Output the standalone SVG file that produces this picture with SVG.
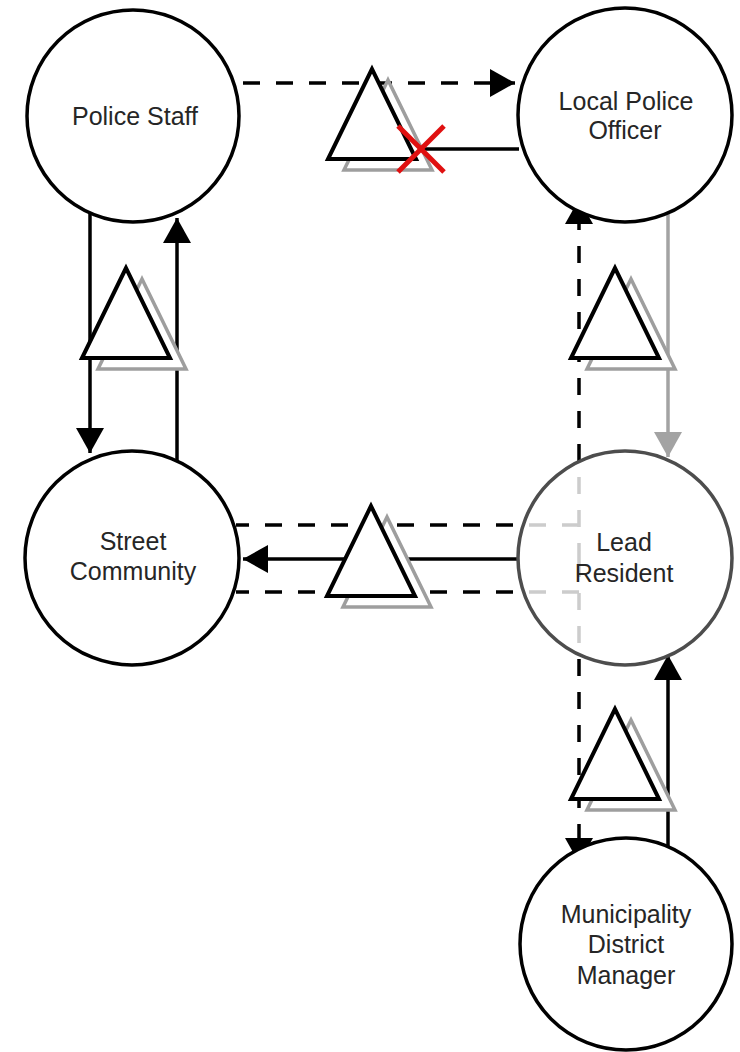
<svg xmlns="http://www.w3.org/2000/svg" xmlns:xlink="http://www.w3.org/1999/xlink" width="740" height="1052" viewBox="0 0 740 1052">
  <style>
    .node circle { fill: #ffffff; stroke: #000000; stroke-width: 3.5; }
    .node.faded circle { fill-opacity: 0.8; stroke: #4d4d4d; }
    .node text { font-family: "Liberation Sans", Arial, sans-serif; font-size: 25px; fill: #262626; text-anchor: middle; }
    .link { fill: none; stroke: #000000; stroke-width: 3.5; }
    .dash { stroke-dasharray: 17 16; }
    .grey { stroke: #a3a3a3; }
    .tri-back { fill: #ffffff; stroke: #9e9e9e; stroke-width: 3.5; }
    .tri-front { fill: #ffffff; stroke: #000000; stroke-width: 4; }
    .cross { stroke: #e01010; stroke-width: 5; stroke-linecap: butt; }
  </style>
  <defs>
    <marker id="arrow" viewBox="0 0 25 28" refX="25" refY="14" markerWidth="25" markerHeight="28" markerUnits="userSpaceOnUse" orient="auto">
      <path d="M0,0 L25,14 L0,28 Z" fill="#000000"/>
    </marker>
    <marker id="arrow-grey" viewBox="0 0 25 28" refX="25" refY="14" markerWidth="25" markerHeight="28" markerUnits="userSpaceOnUse" orient="auto">
      <path d="M0,0 L25,14 L0,28 Z" fill="#a3a3a3"/>
    </marker>
    <!-- warning triangle with offset shadow, anchored at its apex -->
    <g id="tri">
      <polygon class="tri-back" points="16,11 -28,101 60,101"/>
      <polygon class="tri-front" points="0,0 -44,90 44,90"/>
    </g>
  </defs>

  <g id="connectors">
    <line class="link dash" x1="243" y1="83" x2="515" y2="83" marker-end="url(#arrow)"/>
    <line class="link" x1="421" y1="149" x2="519" y2="149"/>
    <line class="link" x1="90" y1="212" x2="90" y2="453" marker-end="url(#arrow)"/>
    <line class="link" x1="177" y1="461" x2="177" y2="218" marker-end="url(#arrow)"/>
    <line class="link grey" x1="668" y1="212" x2="668" y2="457" marker-end="url(#arrow-grey)"/>
    <line class="link dash" x1="579" y1="560" x2="579" y2="199" marker-end="url(#arrow)"/>
    <line class="link dash" x1="579" y1="560" x2="579" y2="863" marker-end="url(#arrow)"/>
    <line class="link dash" x1="579" y1="525" x2="236" y2="525"/>
    <line class="link dash" x1="579" y1="592" x2="236" y2="592"/>
    <line class="link" x1="518" y1="559" x2="243" y2="559" marker-end="url(#arrow)"/>
    <line class="link" x1="668" y1="847" x2="668" y2="655" marker-end="url(#arrow)"/>
  </g>

  <g id="warnings">
    <use xlink:href="#tri" x="372" y="69"/>
    <use xlink:href="#tri" x="126" y="268"/>
    <use xlink:href="#tri" x="615" y="268"/>
    <use xlink:href="#tri" x="371" y="506"/>
    <use xlink:href="#tri" x="615" y="709"/>
    <g id="broken-link">
      <line class="cross" x1="398" y1="126" x2="444" y2="172"/>
      <line class="cross" x1="444" y1="126" x2="398" y2="172"/>
    </g>
  </g>

  <g id="police-staff" class="node">
    <circle cx="133" cy="116" r="106"/>
    <text x="135" y="125">Police Staff</text>
  </g>
  <g id="local-police-officer" class="node">
    <circle cx="625" cy="115" r="107"/>
    <text x="626" y="110">Local Police</text>
    <text x="625" y="139">Officer</text>
  </g>
  <g id="street-community" class="node">
    <circle cx="132" cy="558" r="107"/>
    <text x="133" y="550">Street</text>
    <text x="133" y="580">Community</text>
  </g>
  <g id="lead-resident" class="node faded">
    <circle cx="625" cy="558" r="107"/>
    <text x="624" y="551">Lead</text>
    <text x="624" y="582">Resident</text>
  </g>
  <g id="municipality-district-manager" class="node">
    <circle cx="626" cy="944" r="106"/>
    <text x="626" y="923">Municipality</text>
    <text x="626" y="953">District</text>
    <text x="626" y="984">Manager</text>
  </g>
</svg>
